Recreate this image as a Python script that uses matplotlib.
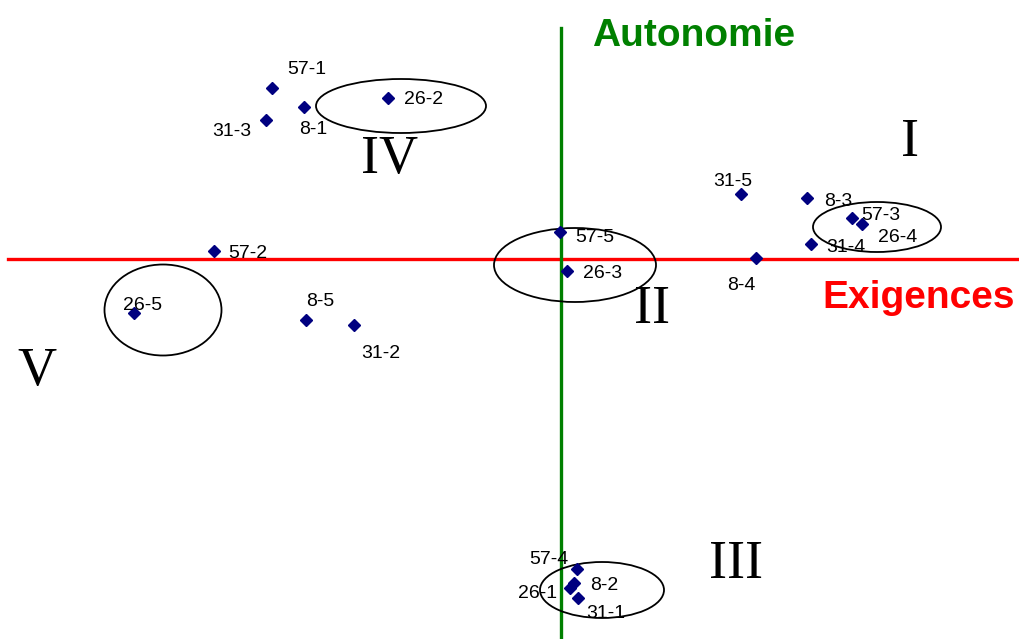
import matplotlib
matplotlib.use('Agg')
import matplotlib.pyplot as plt
from matplotlib.patches import Ellipse

# scores factoriels (axe 1 = exigences, axe 2 = autonomie)
noms = ['57-1', '8-1', '31-3', '26-2',
        '31-5', '8-3', '57-3', '26-4', '31-4', '8-4',
        '57-2', '26-5', '8-5', '31-2',
        '57-5', '26-3',
        '57-4', '8-2', '26-1', '31-1']
exigences = [-2.89, -2.57, -2.95, -1.73,
             1.80, 2.46, 2.91, 3.01, 2.50, 1.95,
             -3.47, -4.27, -2.55, -2.07,
             -0.01, 0.06,
             0.16, 0.13, 0.09, 0.17]
autonomie = [1.71, 1.52, 1.39, 1.61,
             0.65, 0.61, 0.41, 0.35, 0.15, 0.01,
             0.08, -0.54, -0.61, -0.66,
             0.27, -0.12,
             -3.10, -3.24, -3.29, -3.39]

# groupes entourés : centre x, centre y, largeur, hauteur
groupes_x = [0.14, 3.16, -1.60, 0.41, -3.98]
groupes_y = [-0.06, 0.32, 1.53, -3.31, -0.51]
groupes_w = [1.62, 1.28, 1.70, 1.24, 1.17]
groupes_h = [0.74, 0.50, 0.54, 0.56, 0.91]

zones = ['I', 'II', 'III', 'IV', 'V']
zones_x = [3.49, 0.91, 1.75, -1.71, -5.24]
zones_y = [1.03, -0.64, -3.19, 0.86, -1.26]

# décalage des étiquettes (pixels)
decal = [(35, -18), (9, 22), (-34, 11), (36, 2),
         (-8, -13), (31, 3), (29, -3), (36, 13), (35, 4), (-15, 28),
         (34, 2), (9, -7), (14, -18), (27, 28),
         (35, 5), (36, 2),
         (-28, -9), (30, 2), (-32, 6), (28, 15)]

fig = plt.figure(figsize=(10.2, 6.39), dpi=100)
ax = fig.add_axes([0, 0, 1, 1])
ax.set_xlim(-5.61, 4.59)
ax.set_ylim(-3.80, 2.59)
ax.axis('off')

ax.plot([-5.53, 4.59], [0, 0], color='red', lw=2.4, zorder=1)
ax.plot([0, 0], [2.31, -3.80], color='green', lw=2.4, zorder=1)

for cx, cy, w, h in zip(groupes_x, groupes_y, groupes_w, groupes_h):
    ax.add_patch(Ellipse((cx, cy), w, h, fill=False, ec='black', lw=1.3, zorder=2))

ax.plot(exigences, autonomie, 'D', color='#000080', ms=6.3, zorder=3)

for nom, x, y, (dx, dy) in zip(noms, exigences, autonomie, decal):
    ax.annotate(nom, (x, y), xytext=(dx * 0.72, -dy * 0.72), textcoords='offset points',
                ha='center', va='center', fontsize=14, family='Liberation Sans', zorder=4)

for z, x, y in zip(zones, zones_x, zones_y):
    ax.text(x, y, z, ha='center', va='baseline', fontsize=39, family='Liberation Serif')

ax.text(0.31, 2.13, 'Autonomie', color='green', fontsize=28, fontweight='bold',
        family='Liberation Sans', ha='left', va='baseline')
ax.text(2.61, -0.49, 'Exigences', color='red', fontsize=28, fontweight='bold',
        family='Liberation Sans', ha='left', va='baseline')

fig.savefig('out.png', dpi=100)
